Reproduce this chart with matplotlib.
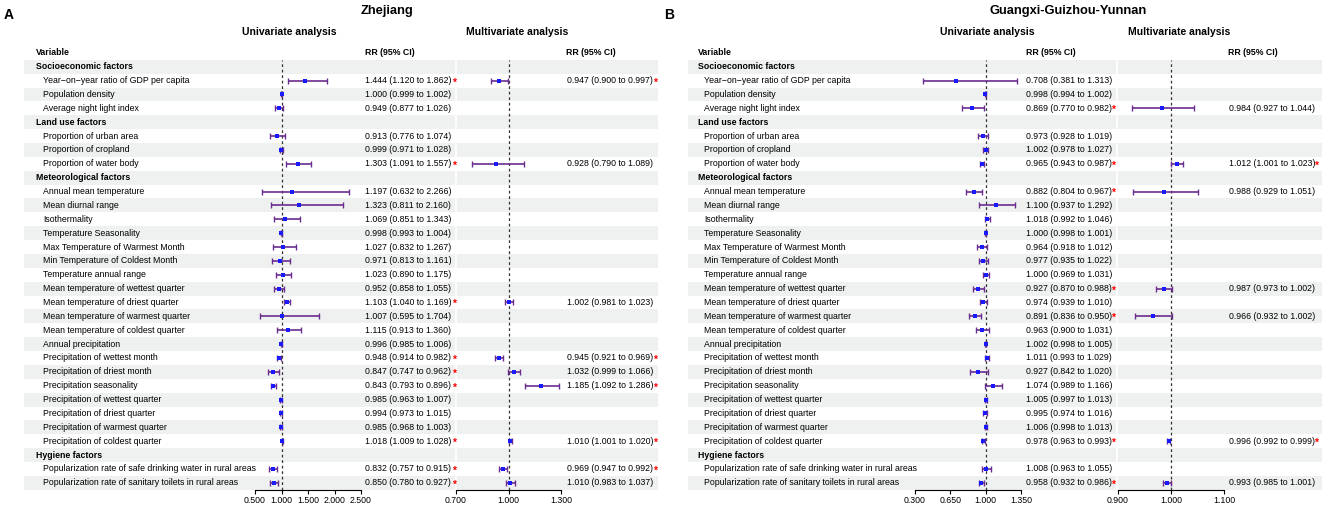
import numpy as np
import matplotlib
matplotlib.use("Agg")
import matplotlib.pyplot as plt

plt.rcParams['font.family'] = ['Liberation Sans', 'DejaVu Sans']

nan = np.nan

# ---- data -------------------------------------------------------------
groups = ["Socioeconomic factors", "Land use factors",
          "Meteorological factors", "Hygiene factors"]

variables = [
    ("Year\u2212on\u2212year ratio of GDP per capita", 0),
    ("Population density", 0),
    ("Average night light index", 0),
    ("Proportion of urban area", 1),
    ("Proportion of cropland", 1),
    ("Proportion of water body", 1),
    ("Annual mean temperature", 2),
    ("Mean diurnal range", 2),
    ("Isothermality", 2),
    ("Temperature Seasonality", 2),
    ("Max Temperature of Warmest Month", 2),
    ("Min Temperature of Coldest Month", 2),
    ("Temperature annual range", 2),
    ("Mean temperature of wettest quarter", 2),
    ("Mean temperature of driest quarter", 2),
    ("Mean temperature of warmest quarter", 2),
    ("Mean temperature of coldest quarter", 2),
    ("Annual precipitation", 2),
    ("Precipitation of wettest month", 2),
    ("Precipitation of driest month", 2),
    ("Precipitation seasonality", 2),
    ("Precipitation of wettest quarter", 2),
    ("Precipitation of driest quarter", 2),
    ("Precipitation of warmest quarter", 2),
    ("Precipitation of coldest quarter", 2),
    ("Popularization rate of safe drinking water in rural areas", 3),
    ("Popularization rate of sanitary toilets in rural areas", 3),
]

# Zhejiang
zj_uni_rr = [1.444, 1.000, 0.949, 0.913, 0.999, 1.303, 1.197, 1.323, 1.069, 0.998,
             1.027, 0.971, 1.023, 0.952, 1.103, 1.007, 1.115, 0.996, 0.948, 0.847,
             0.843, 0.985, 0.994, 0.985, 1.018, 0.832, 0.850]
zj_uni_lo = [1.120, 0.999, 0.877, 0.776, 0.971, 1.091, 0.632, 0.811, 0.851, 0.993,
             0.832, 0.813, 0.890, 0.858, 1.040, 0.595, 0.913, 0.985, 0.914, 0.747,
             0.793, 0.963, 0.973, 0.968, 1.009, 0.757, 0.780]
zj_uni_hi = [1.862, 1.002, 1.026, 1.074, 1.028, 1.557, 2.266, 2.160, 1.343, 1.004,
             1.267, 1.161, 1.175, 1.055, 1.169, 1.704, 1.360, 1.006, 0.982, 0.962,
             0.896, 1.007, 1.015, 1.003, 1.028, 0.915, 0.927]
zj_mul_rr = [0.947, nan, nan, nan, nan, 0.928, nan, nan, nan, nan,
             nan, nan, nan, nan, 1.002, nan, nan, nan, 0.945, 1.032,
             1.185, nan, nan, nan, 1.010, 0.969, 1.010]
zj_mul_lo = [0.900, nan, nan, nan, nan, 0.790, nan, nan, nan, nan,
             nan, nan, nan, nan, 0.981, nan, nan, nan, 0.921, 0.999,
             1.092, nan, nan, nan, 1.001, 0.947, 0.983]
zj_mul_hi = [0.997, nan, nan, nan, nan, 1.089, nan, nan, nan, nan,
             nan, nan, nan, nan, 1.023, nan, nan, nan, 0.969, 1.066,
             1.286, nan, nan, nan, 1.020, 0.992, 1.037]

# Guangxi-Guizhou-Yunnan
gg_uni_rr = [0.708, 0.998, 0.869, 0.973, 1.002, 0.965, 0.882, 1.100, 1.018, 1.000,
             0.964, 0.977, 1.000, 0.927, 0.974, 0.891, 0.963, 1.002, 1.011, 0.927,
             1.074, 1.005, 0.995, 1.006, 0.978, 1.008, 0.958]
gg_uni_lo = [0.381, 0.994, 0.770, 0.928, 0.978, 0.943, 0.804, 0.937, 0.992, 0.998,
             0.918, 0.935, 0.969, 0.870, 0.939, 0.836, 0.900, 0.998, 0.993, 0.842,
             0.989, 0.997, 0.974, 0.998, 0.963, 0.963, 0.932]
gg_uni_hi = [1.313, 1.002, 0.982, 1.019, 1.027, 0.987, 0.967, 1.292, 1.046, 1.001,
             1.012, 1.022, 1.031, 0.988, 1.010, 0.950, 1.031, 1.005, 1.029, 1.020,
             1.166, 1.013, 1.016, 1.013, 0.993, 1.055, 0.986]
gg_mul_rr = [nan, nan, 0.984, nan, nan, 1.012, 0.988, nan, nan, nan,
             nan, nan, nan, 0.987, nan, 0.966, nan, nan, nan, nan,
             nan, nan, nan, nan, 0.996, nan, 0.993]
gg_mul_lo = [nan, nan, 0.927, nan, nan, 1.001, 0.929, nan, nan, nan,
             nan, nan, nan, 0.973, nan, 0.932, nan, nan, nan, nan,
             nan, nan, nan, nan, 0.992, nan, 0.985]
gg_mul_hi = [nan, nan, 1.044, nan, nan, 1.023, 1.051, nan, nan, nan,
             nan, nan, nan, 1.002, nan, 1.002, nan, nan, nan, nan,
             nan, nan, nan, nan, 0.999, nan, 1.001]

zj_uni_ticks = [0.5, 1.0, 1.5, 2.0, 2.5]
zj_mul_ticks = [0.7, 1.0, 1.3]
gg_uni_ticks = [0.3, 0.65, 1.0, 1.35]
gg_mul_ticks = [0.9, 1.0, 1.1]

# ---- layout -----------------------------------------------------------
W, H = 1325, 508
ROW0, ROWH = 66.7, 13.87
AX_BOTTOM = 490
FS = 6.3
LINE_C = '#6a2c91'
PT_C = '#1a1aff'
STRIPE = '#eef1ef'

# row list: headers interleaved with variables
rows = []
last_g = None
for vi, (name, g) in enumerate(variables):
    if g != last_g:
        rows.append((groups[g], True, None))
        last_g = g
    rows.append((name, False, vi))


def ry(i):
    return ROW0 + ROWH * i


fig = plt.figure(figsize=(W / 100, H / 100), dpi=100)
base = fig.add_axes([0, 0, 1, 1])
base.set_xlim(0, W)
base.set_ylim(H, 0)
base.axis('off')


def forest(x0, x1, ticks, rr, lo, hi):
    ax = fig.add_axes([x0 / W, 1 - AX_BOTTOM / H, (x1 - x0) / W,
                       (AX_BOTTOM - (ROW0 - ROWH / 2)) / H])
    ax.set_facecolor('none')
    ax.set_xlim(ticks[0], ticks[-1])
    ax.set_ylim((AX_BOTTOM - ROW0) / ROWH, -0.5)
    ys, r, l, h = [], [], [], []
    for ri, (_, is_head, vi) in enumerate(rows):
        if is_head or np.isnan(rr[vi]):
            continue
        ys.append(ri)
        r.append(rr[vi]); l.append(lo[vi]); h.append(hi[vi])
    r = np.array(r); l = np.array(l); h = np.array(h)
    ax.axvline(1.0, color='#333333', lw=0.9, ls=(0, (2.2, 2.2)), zorder=1)
    ax.errorbar(r, ys, xerr=[r - l, h - r], fmt='none',
                ecolor=LINE_C, elinewidth=1.2, capsize=2.2, capthick=1.0, zorder=3)
    ax.plot(r, ys, 's', ms=2.3, mew=0, color=PT_C, zorder=4)
    for s in ['top', 'left', 'right']:
        ax.spines[s].set_visible(False)
    ax.spines['bottom'].set_bounds(ticks[0], ticks[-1])
    ax.spines['bottom'].set_linewidth(0.8)
    ax.set_yticks([])
    ax.set_xticks(ticks)
    ax.set_xticklabels([f'{t:.3f}' for t in ticks], fontsize=FS)
    ax.tick_params(axis='x', length=2.8, width=0.8, pad=1.5)
    return ax


def panel(p):
    # stripes
    for ri in range(0, len(rows), 2):
        base.fill_between([p['s0'], p['s1']], ry(ri) - ROWH / 2, ry(ri) + ROWH / 2,
                          color=STRIPE, lw=0, zorder=0)
    base.plot([p['gap'], p['gap']], [ry(0) - ROWH / 2, ry(len(rows) - 1) + ROWH / 2],
              color='white', lw=1.2, zorder=0.5)
    base.text(p['letter_x'], 15, p['letter'], fontsize=10, fontweight='bold',
              ha='left', va='center')
    base.text(p['title_x'], 11, p['title'], fontsize=9.3, fontweight='bold',
              ha='center', va='center')
    base.text(p['uh_x'], 32, 'Univariate analysis', fontsize=7.5, fontweight='bold',
              ha='center', va='center')
    base.text(p['mh_x'], 32, 'Multivariate analysis', fontsize=7.5, fontweight='bold',
              ha='center', va='center')
    base.text(p['head_x'], ry(-1), 'Variable', fontsize=FS, fontweight='bold', va='center')
    base.text(p['ut_x'], ry(-1), 'RR (95% CI)', fontsize=FS, fontweight='bold', va='center')
    base.text(p['mt_x'] - 1, ry(-1), 'RR (95% CI)', fontsize=FS, fontweight='bold', va='center')
    uni, mul = p['uni'], p['mul']
    for ri, (name, is_head, vi) in enumerate(rows):
        y = ry(ri)
        if is_head:
            base.text(p['head_x'], y, name, fontsize=FS, fontweight='bold', va='center')
            continue
        base.text(p['item_x'], y, name, fontsize=FS, va='center')
        for (rr, lo, hi), tx, sx in [(uni, p['ut_x'], p['us_x']), (mul, p['mt_x'], p['ms_x'])]:
            if np.isnan(rr[vi]):
                continue
            base.text(tx, y, f'{rr[vi]:.3f} ({lo[vi]:.3f} to {hi[vi]:.3f})',
                      fontsize=FS, va='center')
            if lo[vi] > 1 or hi[vi] < 1:
                base.text(sx, y + 1.8, '*', fontsize=7.3, fontweight='bold', color='red',
                          ha='center', va='center')
    forest(*p['uax'], p['uticks'], *uni)
    forest(*p['max'], p['mticks'], *mul)


panel(dict(s0=24, s1=658, gap=456, letter='A', letter_x=4, title='Zhejiang', title_x=387,
           uh_x=289.5, mh_x=517, head_x=36, item_x=43,
           ut_x=365, us_x=455, mt_x=567, ms_x=656,
           uni=(zj_uni_rr, zj_uni_lo, zj_uni_hi), mul=(zj_mul_rr, zj_mul_lo, zj_mul_hi),
           uax=(255, 361), max=(456, 561), uticks=zj_uni_ticks, mticks=zj_mul_ticks))

panel(dict(s0=688, s1=1322, gap=1117, letter='B', letter_x=664,
           title='Guangxi-Guizhou-Yunnan', title_x=1068,
           uh_x=987, mh_x=1179.5, head_x=697.5, item_x=704.5,
           ut_x=1026, us_x=1114, mt_x=1229, ms_x=1317,
           uni=(gg_uni_rr, gg_uni_lo, gg_uni_hi), mul=(gg_mul_rr, gg_mul_lo, gg_mul_hi),
           uax=(915, 1021), max=(1117.7, 1224), uticks=gg_uni_ticks, mticks=gg_mul_ticks))

fig.savefig('out.png', dpi=100)
